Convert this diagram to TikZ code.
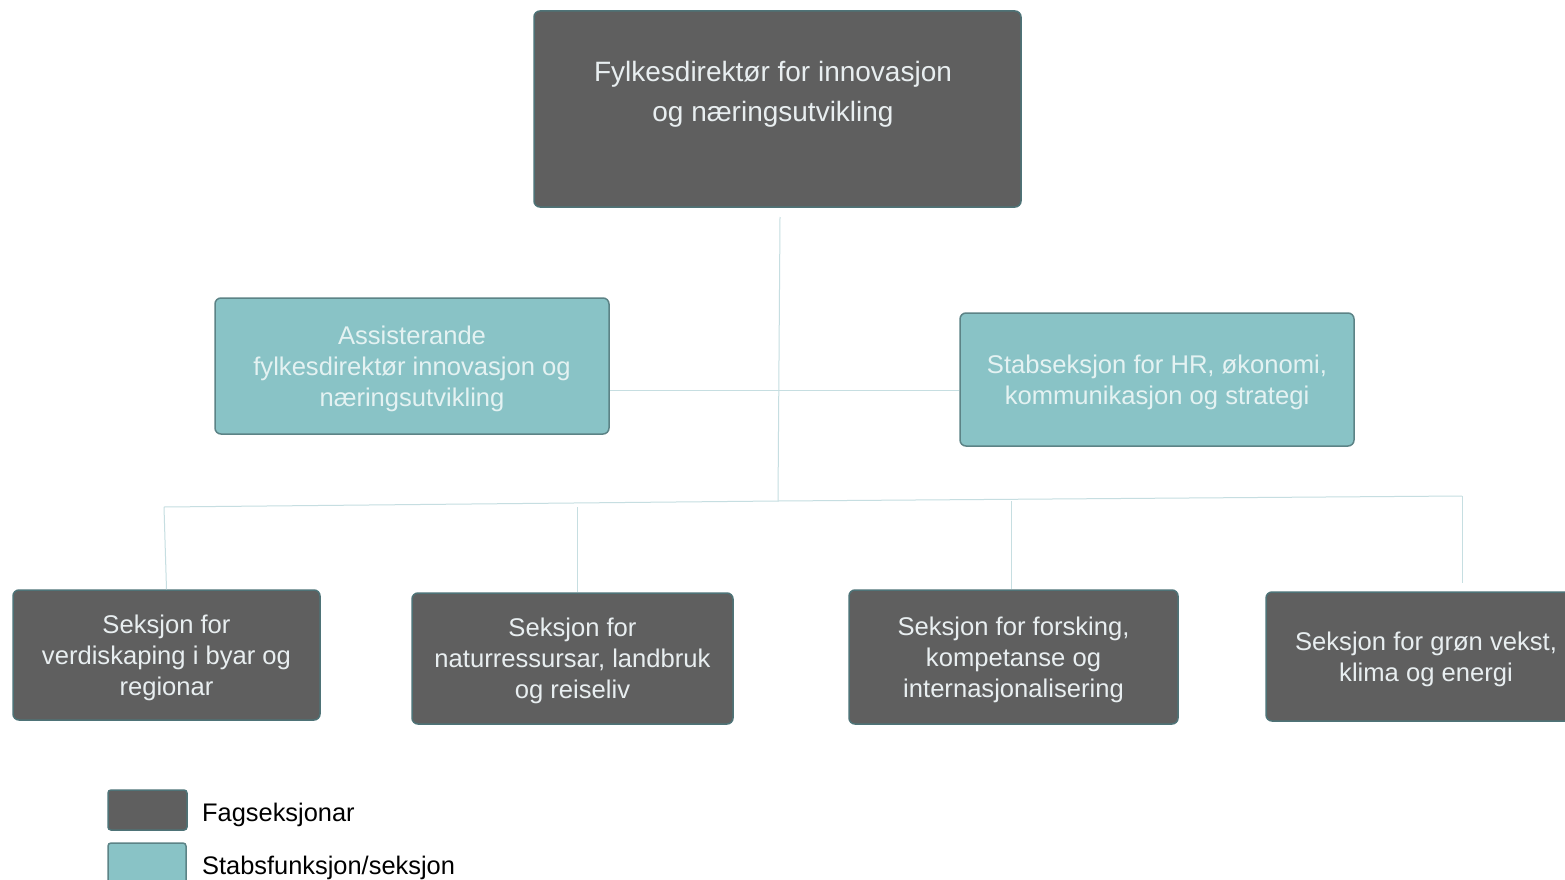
\documentclass[tikz,border=0pt]{standalone}
\usepackage{fontspec}
\setmainfont{Liberation Sans}
\definecolor{darkfill}{HTML}{5F5F5F}
\definecolor{darkedge}{HTML}{4E7377}
\definecolor{tealfill}{HTML}{89C3C6}
\definecolor{tealedge}{HTML}{5C8386}
\definecolor{lighttext}{HTML}{E8EEF0}
\definecolor{tealtext}{HTML}{E4F2F2}
\definecolor{conn}{HTML}{C6DEE1}
\tikzset{
  box/.style={rectangle, rounded corners=6pt, line width=1.5pt, inner sep=0pt, align=center,
    text depth=0pt, font=\fontsize{25.6}{31}\selectfont},
  darkbox/.style={box, fill=darkfill, draw=darkedge, text=lighttext},
  tealbox/.style={box, fill=tealfill, draw=tealedge, text=tealtext},
  connector/.style={draw=conn, line width=1pt},
  legendtext/.style={anchor=west, inner sep=0pt, text depth=0pt, text=black, font=\fontsize{25.4}{31}\selectfont},
}
\begin{document}
\begin{tikzpicture}[x=1pt,y=-1pt]
\useasboundingbox[fill=white] (0,0) rectangle (1565,880);

% connector end points
\coordinate (topout) at (780,217);
\coordinate (hub) at (778,501);
\coordinate (hy) at (0,390);
\coordinate (busL) at (164,507);
\coordinate (busR) at (1462,496);
\coordinate (b2top) at (577,507);
\coordinate (b3top) at (1011,501);
\coordinate (b4top) at (1462,583);

% boxes
\node[darkbox, minimum width=487pt, minimum height=196pt] (top) at (777.5,109) {};
\node[text=lighttext, align=center, inner sep=0pt, font=\fontsize{28}{40}\selectfont] (toptext) at (773,94)
  {Fylkesdirektør for innovasjon\\og næringsutvikling};

\node[tealbox, minimum width=394pt, minimum height=136pt] (assist) at (412,366)
  {Assisterande\\fylkesdirektør innovasjon og\\næringsutvikling};
\node[tealbox, minimum width=394pt, minimum height=133pt] (stab) at (1157,379.5)
  {Stabseksjon for HR, økonomi,\\kommunikasjon og strategi};

\node[darkbox, minimum width=307pt, minimum height=130pt] (b1) at (166.5,655)
  {Seksjon for\\verdiskaping i byar og\\regionar};
\node[darkbox, minimum width=321pt, minimum height=131pt] (b2) at (572.5,658.5)
  {Seksjon for\\naturressursar, landbruk\\og reiseliv};
\node[darkbox, minimum width=329pt, minimum height=134pt] (b3) at (1013.5,657)
  {Seksjon for forsking,\\kompetanse og\\internasjonalisering};
\node[darkbox, minimum width=320pt, minimum height=129pt] (b4) at (1426,656.5)
  {Seksjon for grøn vekst,\\klima og energi};

% connector lines
\draw[connector] (topout) -- (hub);
\draw[connector] (assist.east |- hy) -- (stab.west |- hy);
\draw[connector] (busL) -- (hub) -- (busR);
\draw[connector] (busL) -- (b1.north);
\draw[connector] (b2top) -- (b2.north -| b2top);
\draw[connector] (b3top) -- (b3.north -| b3top);
\draw[connector] (busR) -- (b4top);

% legend
\node[darkbox, rounded corners=3pt, minimum width=79pt, minimum height=40pt] (legdark) at (147.5,810) {};
\node[legendtext] (legdarktext) at (202,812) {Fagseksjonar};
\node[tealbox, rounded corners=3pt, minimum width=78pt, minimum height=42pt] (legteal) at (147,864) {};
\node[legendtext] (legtealtext) at (202,865) {Stabsfunksjon/seksjon};
\end{tikzpicture}
\end{document}
